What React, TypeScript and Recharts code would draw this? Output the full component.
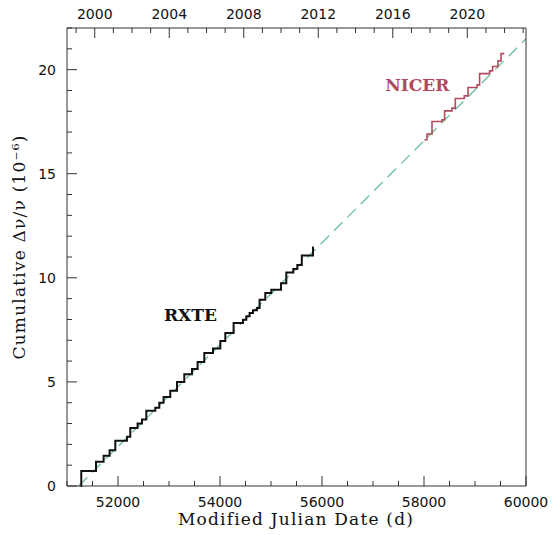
import React from "react";
import { ComposedChart, Line, XAxis, YAxis, ReferenceDot, Label } from "recharts";

// RXTE cumulative glitch sizes (MJD of step, cumulative dnu/nu in 1e-6)
const rxteMjd = [
  51262, 51280, 51569, 51718, 51835, 51947, 52176, 52241, 52384, 52471, 52555,
  52731, 52810, 52894, 53025, 53157, 53300, 53451, 53561, 53692, 53863, 54006,
  54104, 54267, 54451, 54516, 54580, 54647, 54725, 54776, 54888, 55006, 55196,
  55300, 55437, 55516, 55604, 55824, 55840,
];
const rxteCum = [
  0, 0.72, 1.17, 1.45, 1.72, 2.17, 2.36, 2.79, 3.0, 3.2, 3.61, 3.76, 4.0, 4.28,
  4.57, 5.0, 5.37, 5.62, 5.96, 6.39, 6.6, 6.97, 7.35, 7.83, 7.99, 8.15, 8.31,
  8.44, 8.55, 8.95, 9.27, 9.43, 9.74, 10.25, 10.42, 10.62, 11.07, 11.46, 11.46,
];

// NICER
const nicerMjd = [
  58010, 58059, 58157, 58353, 58404, 58549, 58614, 58790, 58863, 59039, 59090,
  59286, 59345, 59451, 59510, 59575,
];
const nicerCum = [
  16.63, 16.91, 17.51, 17.59, 18.02, 18.15, 18.61, 18.74, 19.14, 19.27, 19.81,
  19.94, 20.15, 20.42, 20.77, 20.77,
];

// linear trend
const fitMjd = [51228, 60000];
const fitCum = [0, 21.48];

const mjdTicks = [
  51000, 51500, 52000, 52500, 53000, 53500, 54000, 54500, 55000, 55500, 56000,
  56500, 57000, 57500, 58000, 58500, 59000, 59500, 60000,
];
const mjdLabels = [52000, 54000, 56000, 58000, 60000];
const yTicks = [
  0, 1, 2, 3, 4, 5, 6, 7, 8, 9, 10, 11, 12, 13, 14, 15, 16, 17, 18, 19, 20, 21, 22,
];
const yLabels = [0, 5, 10, 15, 20];
const years = [
  1999, 2000, 2001, 2002, 2003, 2004, 2005, 2006, 2007, 2008, 2009, 2010, 2011,
  2012, 2013, 2014, 2015, 2016, 2017, 2018, 2019, 2020, 2021, 2022, 2023,
];
const yearLabels = [2000, 2004, 2008, 2012, 2016, 2020];

const toRows = (xs: number[], ys: number[]) => xs.map((x, i) => ({ mjd: x, v: ys[i] }));
const rxteData = toRows(rxteMjd, rxteCum);
const nicerData = toRows(nicerMjd, nicerCum);
const fitData = toRows(fitMjd, fitCum);
// MJD of 1 January for the year axis
const yearToMjd = (y: number) => 51544 + (y - 2000) * 365.25;
const yearTicks = years.map(yearToMjd);

const TICK = "#333";
const NUM_FONT = "DejaVu Sans";
const SERIF = "DejaVu Serif";

function BottomTick({ x, y, payload }: any) {
  const major = mjdLabels.includes(payload.value);
  return (
    <g>
      <line x1={x} y1={y} x2={x} y2={y - (major ? 10 : 5)} stroke={TICK} />
      {major && (
        <text x={x} y={y + 21} textAnchor="middle" fontSize={14} fontFamily={NUM_FONT} fill="#111">
          {payload.value}
        </text>
      )}
    </g>
  );
}

function TopTick({ x, y, index }: any) {
  const yr = years[index];
  const major = yearLabels.includes(yr);
  return (
    <g>
      <line x1={x} y1={y} x2={x} y2={y + (major ? 10 : 5)} stroke={TICK} />
      {major && (
        <text x={x} y={y - 9} textAnchor="middle" fontSize={14} fontFamily={NUM_FONT} fill="#111">
          {yr}
        </text>
      )}
    </g>
  );
}

function LeftTick({ x, y, payload }: any) {
  const major = yLabels.includes(payload.value);
  return (
    <g>
      <line x1={x} y1={y} x2={x + (major ? 10 : 5)} y2={y} stroke={TICK} />
      {major && (
        <text x={x - 11} y={y + 5} textAnchor="end" fontSize={14} fontFamily={NUM_FONT} fill="#111">
          {payload.value}
        </text>
      )}
    </g>
  );
}

function RightTick({ x, y, payload }: any) {
  const major = yLabels.includes(payload.value);
  return <line x1={x} y1={y} x2={x - (major ? 10 : 5)} y2={y} stroke={TICK} />;
}

export default function App() {
  return (
    <div style={{ position: "absolute", left: 0, top: 0, background: "#fff" }}>
      <ComposedChart width={553} height={535} margin={{ top: 0, right: 0, bottom: 0, left: 0 }}>
        <XAxis
          xAxisId="b"
          type="number"
          dataKey="mjd"
          domain={[51000, 60000]}
          ticks={mjdTicks}
          interval={0}
          height={49}
          tickSize={0}
          tickMargin={0}
          tick={<BottomTick />}
          axisLine={{ stroke: TICK }}
          allowDataOverflow
        >
          <Label
            content={() => (
              <text x={296} y={525} textAnchor="middle" fontSize={17} fontFamily={SERIF} fill="#111" letterSpacing={1.2}>
                Modified Julian Date (d)
              </text>
            )}
          />
        </XAxis>
        <XAxis
          xAxisId="t"
          orientation="top"
          type="number"
          dataKey="mjd"
          domain={[51000, 60000]}
          ticks={yearTicks}
          interval={0}
          height={28}
          tickSize={0}
          tickMargin={0}
          tick={<TopTick />}
          axisLine={{ stroke: TICK }}
          allowDataOverflow
        />
        <YAxis
          yAxisId="l"
          type="number"
          domain={[0, 22]}
          ticks={yTicks}
          interval={0}
          width={67}
          tickSize={0}
          tickMargin={0}
          tick={<LeftTick />}
          axisLine={{ stroke: TICK }}
        >
          <Label
            content={() => (
              <text
                x={19}
                y={247}
                transform="rotate(-90 19 247)"
                textAnchor="middle"
                dominantBaseline="central"
                fontSize={17}
                fontFamily={SERIF}
                fill="#111"
                letterSpacing={1.2}
              >
                Cumulative Δν/ν (10⁻⁶)
              </text>
            )}
          />
        </YAxis>
        <YAxis
          yAxisId="r"
          orientation="right"
          type="number"
          domain={[0, 22]}
          ticks={yTicks}
          interval={0}
          width={27}
          tickSize={0}
          tickMargin={0}
          tick={<RightTick />}
          axisLine={{ stroke: TICK }}
        />
        <Line
          xAxisId="b"
          yAxisId="l"
          data={fitData}
          dataKey="v"
          type="linear"
          stroke="#6cbf97"
          strokeWidth={1.3}
          strokeDasharray="12 7"
          dot={false}
          isAnimationActive={false}
        />
        <Line
          xAxisId="b"
          yAxisId="l"
          data={rxteData}
          dataKey="v"
          type="stepAfter"
          stroke="#111"
          strokeWidth={2}
          dot={false}
          isAnimationActive={false}
        />
        <Line
          xAxisId="b"
          yAxisId="l"
          data={nicerData}
          dataKey="v"
          type="stepAfter"
          stroke="#b04a5c"
          strokeWidth={1.6}
          dot={false}
          isAnimationActive={false}
        />
        <ReferenceDot
          xAxisId="b"
          yAxisId="l"
          x={53420}
          y={8.2}
          r={0}
          label={{ value: "RXTE", position: "center", fontSize: 17, fontWeight: "bold", fontFamily: SERIF, fill: "#111" }}
        />
        <ReferenceDot
          xAxisId="b"
          yAxisId="l"
          x={57870}
          y={19.27}
          r={0}
          label={{ value: "NICER", position: "center", fontSize: 17, fontWeight: "bold", fontFamily: SERIF, fill: "#b04a5c" }}
        />
      </ComposedChart>
    </div>
  );
}
